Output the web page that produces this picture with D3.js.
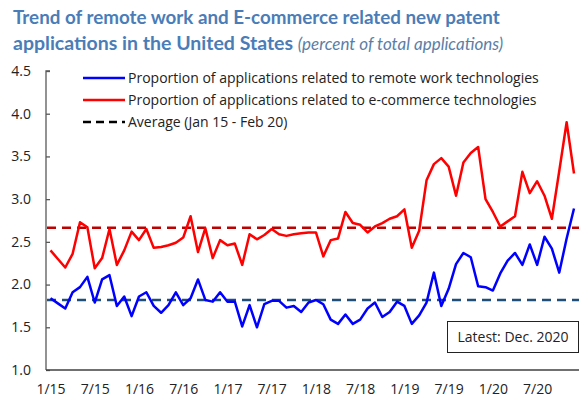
<!DOCTYPE html>
<html>
<head>
<meta charset="utf-8">
<title>Patent applications</title>
<style>
  body, html { margin: 0; padding: 0; background: #fff; }
  svg { display: block; font-family: "Open Sans", sans-serif; }
</style>
</head>
<body>
<svg id="svg" width="579" height="400"></svg>
<script src="https://d3js.org/d3.v7.min.js"></script>
<script>
// monthly, Jan 2015 - Dec 2020
const months = d3.timeMonth.range(new Date(2015, 0, 1), new Date(2021, 0, 1)).map(d3.timeFormat('%-m/%y'))
const tickLabels = ['1/15', '7/15', '1/16', '7/16', '1/17', '7/17', '1/18', '7/18', '1/19', '7/19', '1/20', '7/20']
const yTicks = [1.0, 1.5, 2.0, 2.5, 3.0, 3.5, 4.0, 4.5]

const remoteWork = [1.84, 1.78, 1.72, 1.91, 1.97, 2.09, 1.79, 2.06, 2.11, 1.75, 1.86, 1.63,
  1.86, 1.91, 1.75, 1.67, 1.76, 1.91, 1.76, 1.84, 2.06, 1.82, 1.80, 1.91,
  1.80, 1.80, 1.51, 1.76, 1.50, 1.77, 1.81, 1.81, 1.73, 1.75, 1.68, 1.79,
  1.82, 1.77, 1.59, 1.54, 1.65, 1.54, 1.59, 1.72, 1.79, 1.62, 1.68, 1.80,
  1.75, 1.54, 1.64, 1.79, 2.14, 1.75, 1.95, 2.24, 2.37, 2.32, 1.98, 1.97,
  1.93, 2.13, 2.28, 2.37, 2.23, 2.47, 2.23, 2.56, 2.42, 2.14, 2.54, 2.89]
const eCommerce = [2.40, 2.30, 2.20, 2.36, 2.73, 2.67, 2.19, 2.31, 2.65, 2.23, 2.40, 2.62,
  2.52, 2.65, 2.43, 2.44, 2.46, 2.49, 2.55, 2.80, 2.38, 2.66, 2.31, 2.52,
  2.46, 2.48, 2.23, 2.59, 2.53, 2.58, 2.65, 2.59, 2.57, 2.59, 2.60, 2.61,
  2.61, 2.33, 2.52, 2.54, 2.85, 2.72, 2.70, 2.61, 2.68, 2.72, 2.77, 2.80,
  2.88, 2.43, 2.63, 3.22, 3.41, 3.48, 3.38, 3.04, 3.43, 3.54, 3.61, 3.00,
  2.85, 2.68, 2.74, 2.80, 3.32, 3.07, 3.21, 3.04, 2.77, 3.33, 3.90, 3.30]
const averages = [1.82, 2.665]  // remote work, e-commerce (Jan 15 - Feb 20)

const legendLabels = [
  'Proportion of applications related to remote work technologies',
  'Proportion of applications related to e-commerce technologies',
  'Average (Jan 15 - Feb 20)'
]

const svg = d3.select('#svg')
const plotLeft = 46, plotRight = 579, plotTop = 71, plotBottom = 370

const xscale = d3.scalePoint().domain(months).range([50.5, 574])
const yscale = d3.scaleLinear().domain([1, 4.5]).range([plotBottom, plotTop])

// title
svg.append('text').attr('x', 13).attr('y', 24)
  .attr('font-family', 'Lato, sans-serif').attr('font-weight', 'bold').attr('font-size', 18.8)
  .attr('fill', '#4a7db8')
  .text('Trend of remote work and E-commerce related new patent')
const t2 = svg.append('text').attr('x', 13).attr('y', 50)
  .attr('font-family', 'Lato, sans-serif').attr('font-size', 19.5).attr('fill', '#4a7db8')
t2.append('tspan').attr('font-weight', 'bold').text('applications in the United States ')
t2.append('tspan').attr('font-style', 'italic').attr('font-size', 17).attr('fill', '#5b7ea6')
  .text('(percent of total applications)')

// y axis
const yAxis = svg.append('g')
  .attr('transform', `translate(${plotLeft},0)`)
  .call(d3.axisRight(yscale).tickValues(yTicks).tickSize(4).tickFormat(''))
yAxis.select('.domain').attr('d', `M4,${plotTop}H0V${plotBottom}`).attr('stroke', '#595959').attr('stroke-width', 1.3)
yAxis.selectAll('.tick line').attr('stroke', '#595959').attr('stroke-width', 1.3)
svg.append('g').selectAll('text').data(yTicks).join('text')
  .attr('x', 31).attr('y', d => yscale(d)).attr('dy', '0.35em')
  .attr('text-anchor', 'end').attr('font-size', 14).attr('fill', '#222')
  .text(d => d.toFixed(1))

// x axis
const xAxis = svg.append('g')
  .attr('transform', `translate(0,${plotBottom})`)
  .call(d3.axisBottom(xscale).tickValues(tickLabels).tickSize(0).tickPadding(14))
xAxis.select('.domain').attr('d', `M${plotLeft},0H${plotRight}`).attr('stroke', '#404040').attr('stroke-width', 1.5)
xAxis.selectAll('text').attr('font-size', 14).attr('fill', '#222').attr('font-family', '"Open Sans", sans-serif')

// average lines
const avgColors = ['#1f4e79', '#c00000']
svg.append('g').selectAll('line').data(averages).join('line')
  .attr('x1', plotLeft + 1).attr('x2', plotRight)
  .attr('y1', d => yscale(d)).attr('y2', d => yscale(d))
  .attr('stroke', (d, i) => avgColors[i]).attr('stroke-width', 2.5)
  .attr('stroke-dasharray', '9,6')

// series
const line = d3.line().x((d, i) => xscale(months[i])).y(d => yscale(d))
const series = [eCommerce, remoteWork]
const seriesColors = ['#ff0000', '#0000ff']
svg.append('g').selectAll('path').data(series).join('path')
  .attr('d', d => line(d))
  .attr('fill', 'none')
  .attr('stroke', (d, i) => seriesColors[i])
  .attr('stroke-width', 2.5)
  .attr('stroke-linejoin', 'round')

// legend
const legendStyles = [
  { color: '#0000ff', dash: null },
  { color: '#ff0000', dash: null },
  { color: '#000000', dash: '8,5' }
]
const legend = svg.append('g')
legendLabels.forEach((label, i) => {
  const y = 78 + i * 22
  legend.append('line').attr('x1', 83).attr('x2', 125).attr('y1', y).attr('y2', y)
    .attr('stroke', legendStyles[i].color).attr('stroke-width', 2.5)
    .attr('stroke-dasharray', legendStyles[i].dash)
  legend.append('text').attr('x', 128).attr('y', y).attr('dy', '0.35em')
    .attr('font-size', 14).attr('fill', '#222').text(label)
})

// latest box
svg.append('rect').attr('x', 447.5).attr('y', 321.5).attr('width', 131).attr('height', 31)
  .attr('fill', '#fff').attr('stroke', '#222').attr('stroke-width', 1)
svg.append('text').attr('x', 513).attr('y', 337).attr('dy', '0.35em')
  .attr('text-anchor', 'middle').attr('font-size', 14).attr('fill', '#222')
  .text('Latest: Dec. 2020')
</script>
</body>
</html>
